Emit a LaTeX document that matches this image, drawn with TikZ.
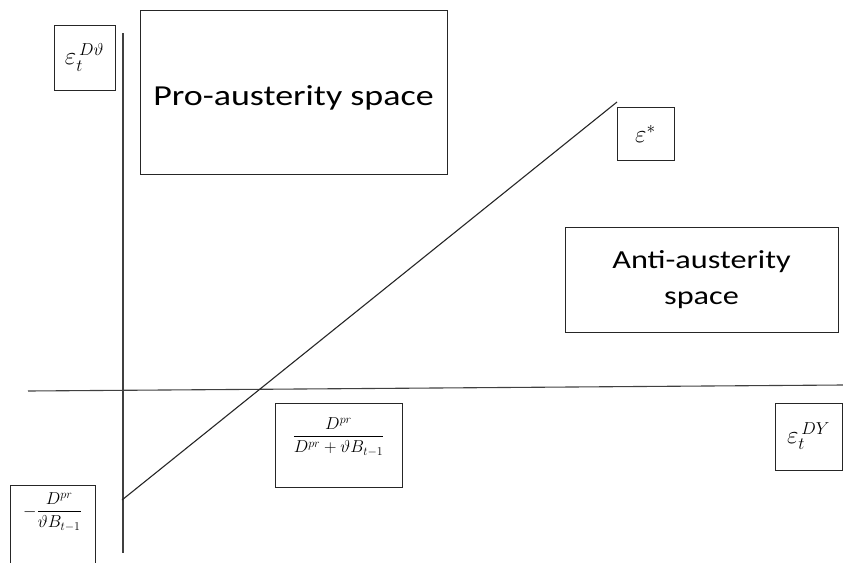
\documentclass[tikz,border=0pt]{standalone}
\usepackage{amsmath}
\usepackage{fontspec}
\setmainfont{Carlito}
\newfontfamily\zonefont[FakeStretch=1.24]{Carlito}
\begin{document}
\begin{tikzpicture}[x=1pt,y=-1pt]
	% Styles
	\tikzstyle{axe}=[-,line width=1.1pt,black!75]
	\tikzstyle{droite}=[-,line width=1.1pt,black!85]
	\tikzstyle{cadre}=[draw,line width=1pt,black!85,text=black,inner sep=0pt]
	\tikzstyle{zone}=[cadre,align=center]
	\tikzstyle{symbole}=[cadre,font=\fontsize{25}{28}\selectfont]
	\tikzstyle{fraction}=[font=\fontsize{17}{21}\selectfont]
	\clip (0,0) rectangle (843,562);
	% Axes et droite
	\coordinate (Xg) at (28,391);
	\coordinate (Xd) at (843,385);
	\coordinate (Yh) at (123,33);
	\coordinate (Yb) at (123,553);
	\coordinate (Dg) at (122,500);
	\coordinate (Dd) at (617,102);
	\draw[axe] (Xg)--(Xd);
	\draw[axe] (Yh)--(Yb);
	\draw[droite] (Dg)--(Dd);
	% Cadres
	\node[symbole,minimum width=61pt,minimum height=65pt] (EpsDt) at (84.5,57.5) {$\varepsilon_{t}^{\,D\vartheta}$};
	\node[zone,font=\zonefont\fontsize{29}{35}\selectfont,minimum width=307pt,minimum height=164pt] (Pro) at (293.5,92)
		{\raisebox{-6pt}[\height][\depth]{Pro-austerity space}};
	\node[symbole,minimum width=57pt,minimum height=53pt] (EpsEt) at (645.5,133.5) {$\varepsilon^{*}$};
	\node[zone,font=\zonefont\fontsize{26}{36}\selectfont,minimum width=273pt,minimum height=105pt] (Anti) at (701.5,279.5) {Anti-austerity\\space};
	\node[symbole,minimum width=67pt,minimum height=67pt] (EpsDY) at (808.5,436.5) {$\varepsilon_{t}^{\,DY}$};
	\node[cadre,minimum width=127pt,minimum height=84pt] (Frac) at (338.5,445) {};
	\node[fraction] (FracT) at (338.5,437) {$\dfrac{D^{pr}}{D^{pr}+\vartheta B_{t-1}}$};
	\node[cadre,minimum width=85pt,minimum height=90pt] (Moins) at (52.5,530) {};
	\node[fraction] (MoinsT) at (52.5,512) {$-\dfrac{D^{pr}}{\vartheta B_{t-1}}$};
\end{tikzpicture}
\end{document}
